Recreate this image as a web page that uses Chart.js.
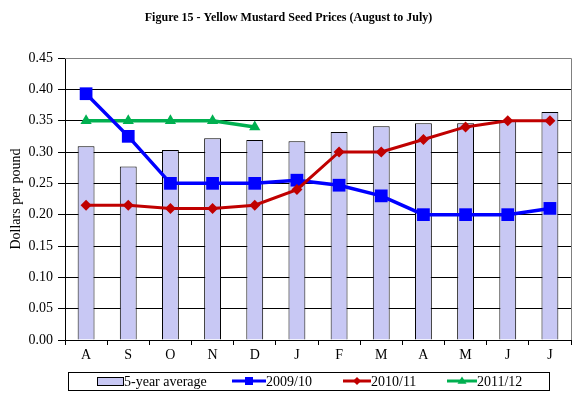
<!DOCTYPE html>
<html>
<head>
<meta charset="utf-8">
<title>Figure 15 - Yellow Mustard Seed Prices</title>
<script src="https://cdn.jsdelivr.net/npm/chart.js@4/dist/chart.umd.min.js"></script>
<style>
  html, body { margin: 0; padding: 0; background: #ffffff; }
  #wrap { width: 580px; height: 396px; }
</style>
</head>
<body>
<div id="wrap"><canvas id="chart" width="580" height="396"></canvas></div>
<script>
// crop year runs August to July
const months = ["A", "S", "O", "N", "D", "J", "F", "M", "A", "M", "J", "J"];
const fiveYearAverage = [0.309, 0.277, 0.303, 0.322, 0.319, 0.317, 0.332, 0.341, 0.346, 0.346, 0.350, 0.364];
const prices2009 = [0.393, 0.325, 0.250, 0.250, 0.250, 0.255, 0.247, 0.230, 0.200, 0.200, 0.200, 0.210];
const prices2010 = [0.215, 0.215, 0.210, 0.210, 0.215, 0.240, 0.300, 0.300, 0.320, 0.340, 0.350, 0.350];
const prices2011 = [0.350, 0.350, 0.350, 0.350, 0.340, null, null, null, null, null, null, null];
const seriesNames = ["5-year average", "2009/10", "2010/11", "2011/12"];
const yMin = 0;
const yMax = 0.45;
const yStep = 0.05;

const FONT = "'Liberation Serif', 'Times New Roman', serif";
const BAR_FILL = "#c8c8f4";
const BLUE = "#0000ff";
const RED = "#c00000";
const GREEN = "#00b050";

// grey frame on top and right of the plot area
const plotFrame = {
  id: "plotFrame",
  afterDraw(chart) {
    const { ctx, chartArea } = chart;
    ctx.save();
    ctx.strokeStyle = "#808080";
    ctx.lineWidth = 1;
    ctx.beginPath();
    ctx.moveTo(chartArea.left, chartArea.top + 0.5);
    ctx.lineTo(chartArea.right + 0.5, chartArea.top + 0.5);
    ctx.lineTo(chartArea.right + 0.5, chartArea.bottom);
    ctx.stroke();
    ctx.restore();
  },
};

function drawMarker(ctx, style, x, y, r, color) {
  ctx.fillStyle = color;
  ctx.beginPath();
  if (style === "rect") {
    ctx.rect(x - r, y - r, 2 * r, 2 * r);
  } else if (style === "rectRot") {
    ctx.moveTo(x, y - r);
    ctx.lineTo(x + r, y);
    ctx.lineTo(x, y + r);
    ctx.lineTo(x - r, y);
  } else {
    ctx.moveTo(x, y - r);
    ctx.lineTo(x + r, y + r * 0.6);
    ctx.lineTo(x - r, y + r * 0.6);
  }
  ctx.closePath();
  ctx.fill();
}

// legend in a boxed row under the axis, like the spreadsheet original
const boxedLegend = {
  id: "boxedLegend",
  afterDraw(chart) {
    const { ctx } = chart;
    const boxTop = 372;
    const boxBottom = 390;
    const midY = (boxTop + boxBottom) / 2;
    ctx.save();
    ctx.strokeStyle = "#000000";
    ctx.lineWidth = 1;
    ctx.strokeRect(68.5, boxTop + 0.5, 481, boxBottom - boxTop);

    ctx.font = "14px " + FONT;
    ctx.textBaseline = "middle";
    ctx.fillStyle = "#000000";

    // bar swatch
    ctx.fillStyle = BAR_FILL;
    ctx.fillRect(97, midY - 4, 26, 8);
    ctx.strokeRect(97.5, midY - 3.5, 26, 8);
    ctx.fillStyle = "#000000";
    ctx.fillText(seriesNames[0], 124, midY + 1);

    const lineItems = [
      { x0: 232, x1: 266, color: BLUE, style: "rect", r: 4, name: seriesNames[1] },
      { x0: 343, x1: 371, color: RED, style: "rectRot", r: 4, name: seriesNames[2] },
      { x0: 447, x1: 477, color: GREEN, style: "triangle", r: 4.5, name: seriesNames[3] },
    ];
    lineItems.forEach((item) => {
      ctx.strokeStyle = item.color;
      ctx.lineWidth = 3;
      ctx.beginPath();
      ctx.moveTo(item.x0, midY);
      ctx.lineTo(item.x1, midY);
      ctx.stroke();
      drawMarker(ctx, item.style, (item.x0 + item.x1) / 2, midY, item.r, item.color);
      ctx.fillStyle = "#000000";
      ctx.fillText(item.name, item.x1, midY + 1);
    });
    ctx.restore();
  },
};

const ctx = document.getElementById("chart");

new Chart(ctx, {
  data: {
    labels: months,
    datasets: [
      {
        type: "line",
        label: seriesNames[2],
        data: prices2010,
        borderColor: RED,
        backgroundColor: RED,
        borderWidth: 3,
        pointStyle: "rectRot",
        pointRadius: 5.5,
        pointBorderWidth: 0,
        tension: 0,
        order: 1,
      },
      {
        type: "line",
        label: seriesNames[1],
        data: prices2009,
        borderColor: BLUE,
        backgroundColor: BLUE,
        borderWidth: 3.5,
        pointStyle: "rect",
        pointRadius: 9,
        pointBorderWidth: 0,
        tension: 0,
        order: 2,
      },
      {
        type: "line",
        label: seriesNames[3],
        data: prices2011,
        borderColor: GREEN,
        backgroundColor: GREEN,
        borderWidth: 3.5,
        pointStyle: "triangle",
        pointRadius: 6.5,
        pointBorderWidth: 0,
        tension: 0,
        spanGaps: false,
        order: 3,
      },
      {
        type: "bar",
        label: seriesNames[0],
        data: fiveYearAverage,
        backgroundColor: BAR_FILL,
        borderColor: "#000000",
        borderWidth: 1,
        barPercentage: 0.4,
        categoryPercentage: 1,
        order: 10,
      },
    ],
  },
  options: {
    responsive: false,
    animation: false,
    devicePixelRatio: 1,
    layout: { padding: { left: 6, right: 9, top: 0, bottom: 0 } },
    plugins: {
      legend: { display: false },
      tooltip: { enabled: false },
      title: {
        display: true,
        text: "Figure 15 - Yellow Mustard Seed Prices (August to July)",
        color: "#000000",
        font: { family: FONT, size: 12, weight: "bold" },
        padding: { top: 11, bottom: 32.6 },
      },
    },
    scales: {
      x: {
        type: "category",
        offset: true,
        afterFit(scale) {
          scale.height = 56;
        },
        grid: {
          offset: true,
          drawOnChartArea: false,
          drawTicks: true,
          tickLength: 5,
          color: "#000000",
        },
        border: { display: true, color: "#000000", width: 1 },
        ticks: {
          color: "#000000",
          font: { family: FONT, size: 14 },
          padding: 2,
          maxRotation: 0,
        },
      },
      y: {
        min: yMin,
        max: yMax,
        afterFit(scale) {
          scale.width = 59;
        },
        afterBuildTicks(scale) {
          const ticks = [];
          for (let i = 0; i <= Math.round((yMax - yMin) / yStep); i++) {
            ticks.push({ value: +(yMin + i * yStep).toFixed(2) });
          }
          scale.ticks = ticks;
        },
        grid: {
          color: (c) => (c.tick && c.tick.value >= yMax ? "#808080" : "#000000"),
          tickColor: "#000000",
          lineWidth: 1,
          drawTicks: true,
          tickLength: 7,
        },
        border: { display: true, color: "#000000", width: 1 },
        ticks: {
          color: "#000000",
          font: { family: FONT, size: 14 },
          padding: 5,
          callback: (v) => Number(v).toFixed(2),
        },
        title: {
          display: true,
          text: "Dollars per pound",
          color: "#000000",
          font: { family: FONT, size: 14 },
          padding: { top: 2, bottom: 0 },
        },
      },
    },
  },
  plugins: [plotFrame, boxedLegend],
});
</script>
</body>
</html>
